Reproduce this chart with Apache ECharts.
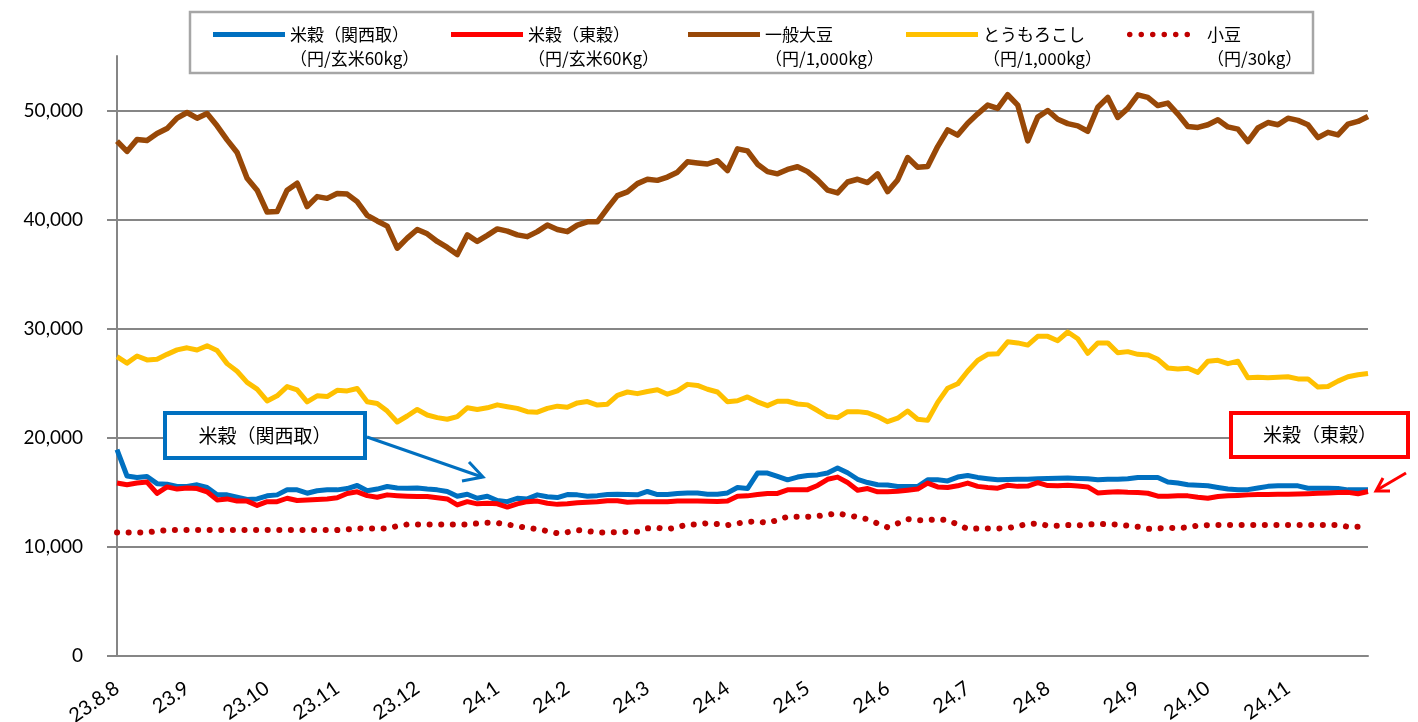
<!DOCTYPE html>
<html>
<head>
<meta charset="utf-8">
<script src="https://cdn.jsdelivr.net/npm/echarts@6/dist/echarts.min.js"></script>
<style>
  html, body { margin: 0; padding: 0; background: #fff; }
  #chart { width: 1418px; height: 722px; }
</style>
</head>
<body>
<div id="chart"></div>
<script>
// 月の目盛ラベルと、その位置（サンプル番号）
const monthLabels = ['23.8.8', '23.9', '23.10', '23.11', '23.12', '24.1', '24.2', '24.3', '24.4', '24.5', '24.6', '24.7', '24.8', '24.9', '24.10', '24.11'];
const monthIndex = [0, 7, 15, 22, 30, 38, 45, 53, 61, 69, 77, 85, 93, 102, 109, 117];

// 米穀(関西取)
const riceKansai = [
  18920, 16500, 16370, 16460, 15800, 15750, 15540, 15540, 15690, 15450,
  14770, 14770, 14550, 14350, 14400, 14680, 14770, 15230, 15230, 14920,
  15150, 15230, 15230, 15350, 15630, 15150, 15300, 15540, 15400, 15380,
  15400, 15300, 15230, 15080, 14650, 14830, 14460, 14650, 14250, 14150,
  14460, 14400, 14770, 14600, 14520, 14800, 14770, 14650, 14700, 14800,
  14830, 14800, 14770, 15080, 14800, 14800, 14900, 14950, 14950, 14830,
  14830, 14950, 15450, 15350, 16770, 16770, 16460, 16150, 16400, 16550,
  16600, 16770, 17230, 16800, 16200, 15900, 15700, 15680, 15540, 15540,
  15540, 16150, 16150, 16050, 16400, 16550, 16370, 16250, 16150, 16180,
  16200, 16200, 16250, 16280, 16300, 16310, 16280, 16250, 16150, 16200,
  16200, 16250, 16370, 16370, 16370, 15950, 15850, 15700, 15650, 15600,
  15450, 15300, 15230, 15250, 15400, 15550, 15600, 15600, 15600, 15380,
  15380, 15380, 15350, 15230, 15230, 15230
];

// 米穀(東穀)
const riceTokyo = [
  15850, 15700, 15850, 15940, 14900, 15500, 15300, 15400, 15350, 15050,
  14310, 14400, 14200, 14200, 13800, 14150, 14150, 14460, 14250, 14300,
  14350, 14400, 14500, 14900, 15050, 14700, 14550, 14770, 14700, 14650,
  14620, 14620, 14500, 14400, 13850, 14150, 13950, 14000, 13950, 13650,
  13950, 14150, 14200, 14000, 13900, 13950, 14050, 14100, 14150, 14230,
  14230, 14100, 14150, 14150, 14150, 14150, 14200, 14200, 14200, 14180,
  14170, 14200, 14650, 14680, 14800, 14900, 14900, 15230, 15250, 15250,
  15630, 16200, 16400, 15900, 15200, 15350, 15050, 15050, 15100, 15200,
  15300, 15850, 15500, 15450, 15600, 15850, 15550, 15450, 15380, 15650,
  15550, 15580, 15900, 15620, 15600, 15650, 15580, 15500, 14950, 15000,
  15050, 15000, 14990, 14920, 14650, 14650, 14700, 14680, 14550, 14460,
  14620, 14680, 14720, 14770, 14800, 14800, 14820, 14830, 14850, 14880,
  14920, 14950, 14980, 15000, 14870, 15080
];

// 一般大豆
const soybean = [
  47200, 46250, 47350, 47250, 47900, 48350, 49300, 49820, 49300, 49730,
  48600, 47310, 46150, 43800, 42700, 40700, 40740, 42700, 43340, 41200,
  42110, 41950, 42400, 42340, 41650, 40400, 39880, 39400, 37380, 38300,
  39100, 38700, 38000, 37450, 36800, 38600, 38000, 38560, 39150, 38950,
  38600, 38440, 38900, 39500, 39100, 38900, 39500, 39800, 39800, 41040,
  42200, 42550, 43300, 43700, 43600, 43900, 44350, 45300, 45200, 45100,
  45400, 44500, 46490, 46300, 45080, 44400, 44200, 44600, 44850, 44400,
  43640, 42700, 42450, 43450, 43700, 43400, 44200, 42570, 43640, 45690,
  44800, 44870, 46700, 48230, 47750, 48840, 49700, 50500, 50200, 51450,
  50500, 47220, 49400, 50000, 49200, 48800, 48600, 48100, 50300, 51200,
  49370, 50200, 51440, 51200, 50460, 50680, 49680, 48530, 48450, 48700,
  49150, 48500, 48300, 47150, 48400, 48900, 48700, 49300, 49100, 48700,
  47520, 48000, 47770, 48750, 49000, 49450
];

// とうもろこし
const corn = [
  27450, 26850, 27500, 27140, 27200, 27650, 28060, 28250, 28050, 28430,
  28000, 26800, 26100, 25080, 24460, 23380, 23850, 24700, 24400, 23300,
  23850, 23780, 24350, 24300, 24520, 23300, 23150, 22450, 21450, 22000,
  22600, 22090, 21850, 21700, 21950, 22750, 22600, 22750, 23020, 22850,
  22700, 22400, 22350, 22700, 22900, 22800, 23200, 23320, 23000, 23080,
  23900, 24200, 24050, 24250, 24400, 24000, 24300, 24900, 24800, 24450,
  24200, 23300, 23400, 23750, 23300, 22950, 23350, 23350, 23100, 23020,
  22500, 21950, 21850, 22400, 22400, 22300, 21950, 21480, 21800, 22460,
  21700, 21600, 23250, 24550, 24950, 26100, 27100, 27650, 27700, 28800,
  28700, 28500, 29300, 29300, 28900, 29700, 29080, 27750, 28700, 28700,
  27800, 27900, 27650, 27600, 27200, 26400, 26310, 26380, 26000, 27020,
  27100, 26800, 27020, 25500, 25550, 25500, 25550, 25600, 25400, 25400,
  24650, 24700, 25200, 25600, 25780, 25900
];

// 小豆
const azuki = [
  11320, 11320, 11320, 11320, 11450, 11540, 11540, 11540, 11540, 11540,
  11540, 11540, 11540, 11540, 11540, 11540, 11540, 11540, 11540, 11540,
  11540, 11540, 11540, 11600, 11690, 11690, 11690, 11690, 11900, 12060,
  12060, 12060, 12060, 12060, 12060, 12060, 12150, 12210, 12200, 12050,
  11900, 11750, 11630, 11450, 11250, 11350, 11540, 11450, 11320, 11330,
  11350, 11380, 11380, 11700, 11750, 11620, 11800, 12060, 12060, 12180,
  12100, 12000, 12150, 12300, 12330, 12200, 12460, 12770, 12770, 12770,
  12820, 12950, 13080, 12880, 12750, 12530, 12150, 11800, 12150, 12550,
  12450, 12450, 12550, 12450, 12050, 11650, 11690, 11690, 11690, 11720,
  11900, 12100, 12150, 11940, 11940, 12000, 11960, 12050, 12100, 12080,
  12050, 11950, 11850, 11650, 11700, 11750, 11720, 11800, 11960, 12000,
  12000, 12000, 12000, 12000, 12000, 12000, 12000, 12000, 12000, 12000,
  12000, 12000, 12000, 11850, 11850, 11850
];

const seriesNames = ['米穀（関西取）', '米穀（東穀）', '一般大豆', 'とうもろこし', '小豆'];
const seriesUnits = ['（円/玄米60kg）', '（円/玄米60Kg）', '（円/1,000kg）', '（円/1,000kg）', '（円/30kg）'];
const seriesColors = ['#0070c0', '#ff0000', '#984807', '#ffc000', '#c00000'];
const yTicks = [0, 10000, 20000, 30000, 40000, 50000];

const categories = new Array(soybean.length).fill('');
monthIndex.forEach((idx, i) => { categories[idx] = monthLabels[i]; });

const numFont = 'Lato, "Open Sans", sans-serif';
const jpFont = '"Noto Sans CJK JP", sans-serif';
const axisGray = '#868686';

// 凡例アイコン：実線は細長い四角、小豆は点線
const dotIcon = 'path://' + [0, 1, 2, 3, 4, 5].map(i => {
  const cx = 2.75 + i * 11.5;
  return 'M' + (cx - 2.75) + ',2.75a2.75,2.75 0 1,0 5.5,0a2.75,2.75 0 1,0 -5.5,0Z';
}).join(' ');

const legendLeft = [213, 451, 688, 906, 1127];
const legends = seriesNames.map((name, i) => ({
  data: [name],
  left: legendLeft[i],
  top: 26,
  padding: 0,
  icon: i === 4 ? dotIcon : 'rect',
  itemWidth: i === 4 ? 63 : 72,
  itemHeight: i === 4 ? 5.5 : 5,
  selectedMode: false,
  formatter: n => '{a|' + n + '}\n{b|' + seriesUnits[i] + '}',
  textStyle: {
    padding: [24, 0, 0, i === 4 ? 12 : 0],
    rich: {
      a: { fontFamily: jpFont, fontSize: 17, lineHeight: 24, color: '#000' },
      b: { fontFamily: jpFont, fontSize: 17, lineHeight: 24, color: '#000' }
    }
  }
}));

const chart = echarts.init(document.getElementById('chart'));

const lineSeries = (i, data, width, dash) => ({
  name: seriesNames[i],
  type: 'line',
  data: data,
  symbol: 'none',
  showSymbol: false,
  itemStyle: { color: seriesColors[i] },
  lineStyle: dash
    ? { color: seriesColors[i], width: width, type: dash, cap: 'round' }
    : { color: seriesColors[i], width: width, join: 'round' }
});

const option = {
  animation: false,
  backgroundColor: '#fff',
  grid: { left: 117, right: 50, top: 56, bottom: 66, outerBoundsMode: 'none', containLabel: false },
  legend: legends,
  xAxis: {
    type: 'category',
    data: categories,
    boundaryGap: false,
    axisLine: { lineStyle: { color: axisGray, width: 2 } },
    axisTick: { show: false },
    axisLabel: {
      interval: 0,
      rotate: 35,
      margin: 30,
      fontFamily: numFont,
      fontSize: 20,
      color: '#000'
    },
    splitLine: { show: false }
  },
  yAxis: {
    type: 'value',
    min: 0,
    max: 55000,
    interval: 10000,
    axisLine: { show: true, lineStyle: { color: axisGray, width: 2 } },
    axisTick: { show: true, length: 10, lineStyle: { color: axisGray, width: 2 }, customValues: yTicks },
    axisLabel: {
      customValues: yTicks,
      margin: 34,
      fontFamily: numFont,
      fontSize: 19,
      color: '#000',
      formatter: v => v.toLocaleString('en-US')
    },
    splitLine: { show: true, lineStyle: { color: axisGray, width: 2 } }
  },
  series: [
    lineSeries(0, riceKansai, 5),
    lineSeries(1, riceTokyo, 5),
    lineSeries(2, soybean, 5.5),
    lineSeries(3, corn, 5),
    lineSeries(4, azuki, 6, [0.1, 11.5])
  ],
  graphic: [
    // 凡例の枠
    { type: 'rect', z: 0, shape: { x: 190, y: 12, width: 1123, height: 61 },
      style: { fill: '#fff', stroke: '#a6a6a6', lineWidth: 2.5 } },
    // 吹き出し：米穀(関西取)
    { type: 'rect', z: 10, shape: { x: 165, y: 413, width: 200, height: 45 },
      style: { fill: '#fff', stroke: '#0070c0', lineWidth: 4 } },
    { type: 'text', z: 11, x: 265, y: 436,
      style: { text: '米穀（関西取）', font: '19px "Noto Sans CJK JP"', fill: '#000', align: 'center', verticalAlign: 'middle' } },
    { type: 'line', z: 10, shape: { x1: 367, y1: 437, x2: 482, y2: 477 },
      style: { stroke: '#0070c0', lineWidth: 3 } },
    { type: 'polyline', z: 10, shape: { points: [[462, 481], [483, 477], [469, 462]] },
      style: { stroke: '#0070c0', lineWidth: 3, fill: null } },
    // 吹き出し：米穀(東穀)
    { type: 'rect', z: 10, shape: { x: 1231, y: 413, width: 177, height: 44 },
      style: { fill: '#fff', stroke: '#ff0000', lineWidth: 4 } },
    { type: 'text', z: 11, x: 1320, y: 435,
      style: { text: '米穀（東穀）', font: '19px "Noto Sans CJK JP"', fill: '#000', align: 'center', verticalAlign: 'middle' } },
    { type: 'line', z: 10, shape: { x1: 1406, y1: 473, x2: 1377, y2: 490 },
      style: { stroke: '#ff0000', lineWidth: 3 } },
    { type: 'polyline', z: 10, shape: { points: [[1383, 478], [1376, 491], [1390, 491]] },
      style: { stroke: '#ff0000', lineWidth: 3, fill: null } }
  ]
};

chart.setOption(option);
</script>
</body>
</html>
